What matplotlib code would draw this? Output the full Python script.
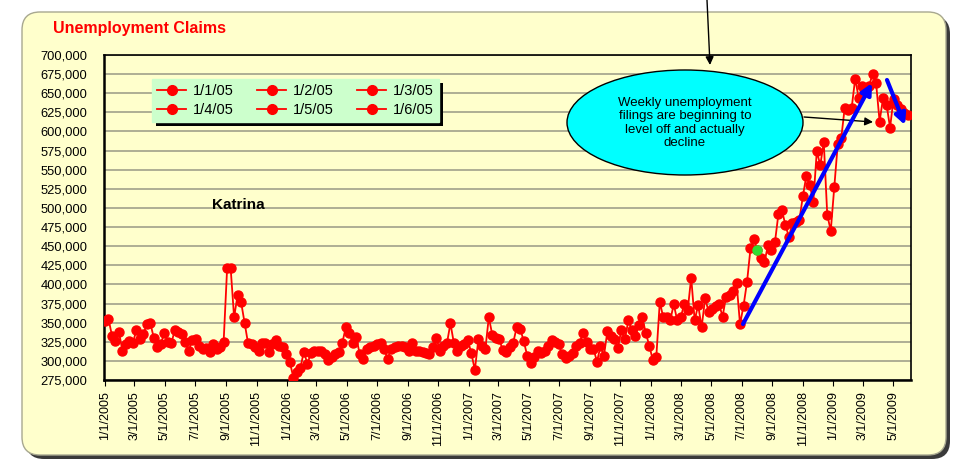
import matplotlib
matplotlib.use('Agg')
import matplotlib.pyplot as plt
from matplotlib.patches import FancyBboxPatch, Ellipse, Rectangle
from matplotlib.lines import Line2D
from matplotlib.transforms import IdentityTransform
from matplotlib.ticker import FuncFormatter
import pandas as pd

plt.rcParams['font.family'] = ['Liberation Sans', 'DejaVu Sans']

# weekly initial claims, in thousands, starting 1/1/2005
claims_k = [
    352, 355, 333, 326, 338, 313, 322, 326, 324, 340, 328, 335, 348, 349, 330, 318, 322, 337,
    325, 323, 340, 338, 335, 325, 313, 327, 328, 320, 316, 317, 311, 322, 315, 318, 325,
    421, 422, 357, 386, 377, 350, 323, 322, 318,
    313, 323, 323, 311, 322, 327, 320, 318, 309, 298, 278, 285, 291, 312, 296, 310, 313, 313,
    313, 309, 301, 305, 309, 311, 323, 344, 336, 324, 331, 309, 302, 315, 318, 320, 322, 324,
    315, 303, 315, 318, 320, 320, 318, 313, 323, 313,
    313, 311, 310, 309, 318, 330, 313, 320, 323, 349, 323, 313, 320, 322, 327, 310, 288, 328,
    320, 315, 357, 334, 330, 328, 314, 311, 318, 324, 344, 342, 326, 307, 297, 305, 313, 310,
    313, 320, 327, 325, 322, 309, 304, 307, 310, 320, 323,
    337, 325, 316, 316, 299, 319, 307, 339, 332, 329, 317, 341, 328, 353, 340, 332, 347, 357,
    336, 320, 301, 305, 377, 357, 357, 353, 374, 353, 357, 374, 366, 409, 353, 373, 344, 382,
    364, 368, 372, 374, 358, 384,
    386, 391, 402, 348, 372, 403, 447, 459, 445, 434, 429, 451, 445, 455, 492, 497, 478, 462,
    480, 482, 484, 515, 542, 530, 508, 574, 556, 586, 491, 470, 527, 583, 591, 631, 628, 631,
    669, 644, 659, 656, 660, 675, 663, 613, 644, 635, 605, 643, 635, 630, 624, 621,
]
claims = [v * 1000 for v in claims_k]
weeks = pd.date_range('2005-01-01', periods=len(claims), freq='7D')
highlight = 187

legend_labels = ['1/1/05', '1/2/05', '1/3/05', '1/4/05', '1/5/05', '1/6/05']
tick_dates = pd.date_range('2005-01-01', '2009-05-01', freq='2MS')
note = 'Weekly unemployment\nfilings are beginning to\nlevel off and actually\ndecline'

W, H = 961, 459


def fx(x):
    return x / W


def fy(y):
    return 1 - y / H


fig = plt.figure(figsize=(W / 100, H / 100), dpi=100)
fig.patch.set_facecolor('white')

# rounded yellow panel with shadow
fig.patches.append(FancyBboxPatch((26, 0), 924, 443, boxstyle='round,pad=0,rounding_size=18',
                                  transform=IdentityTransform(), facecolor='#3a3a3a',
                                  edgecolor='none', zorder=-3))
fig.patches.append(FancyBboxPatch((22, 4), 924, 443, boxstyle='round,pad=0,rounding_size=18',
                                  transform=IdentityTransform(), facecolor='#FFFFCC',
                                  edgecolor='#A8A890', lw=1, zorder=-2))

ax = fig.add_axes([fx(104), fy(380), (911 - 104) / W, (380 - 55) / H])
ax.set_facecolor('#FFFFCC')

ax.plot(weeks, claims, color='red', lw=1.3, marker='o', ms=6.5, zorder=3)
ax.plot(weeks[highlight], claims[highlight], 'o', color='#33DD33', ms=6.5, zorder=4)

ax.set_ylim(275000, 700000)
ax.set_yticks(range(275000, 700001, 25000))
ax.yaxis.set_major_formatter(FuncFormatter(lambda v, p: f'{v:,.0f}'))
ax.set_xlim(pd.Timestamp('2004-12-30'), pd.Timestamp('2009-06-06'))
ax.set_xticks(tick_dates)
ax.set_xticklabels([f'{d.month}/{d.day}/{d.year}' for d in tick_dates], rotation=90)
ax.tick_params(axis='y', length=0, pad=12, labelsize=9.3)
ax.tick_params(axis='x', length=4, pad=4, labelsize=9, direction='out')
ax.yaxis.grid(True, color='#A8A890', lw=1.3)
ax.set_axisbelow(True)
for side in ['left', 'bottom']:
    ax.spines[side].set_linewidth(1.8)
for side in ['top', 'right']:
    ax.spines[side].set_linewidth(1.2)

handles = [Line2D([], [], color='red', lw=1.3, marker='o', ms=7) for _ in legend_labels]
order = [0, 3, 1, 4, 2, 5]
leg = ax.legend([handles[i] for i in order], [legend_labels[i] for i in order], ncol=3,
                loc='upper left', bbox_to_anchor=(fx(152), fy(79)), bbox_transform=fig.transFigure,
                fontsize=10.5, fancybox=False, facecolor='#CCFFCC', edgecolor='#CCFFCC',
                framealpha=1, borderaxespad=0, handlelength=2.0, handletextpad=0.45,
                columnspacing=1.6, borderpad=0.35, labelspacing=0.35)

fig.text(fx(53), fy(29), 'Unemployment Claims', color='red', fontweight='bold', fontsize=11.5,
         va='center')
ax.text(fx(212), fy(205), 'Katrina', transform=fig.transFigure, fontweight='bold', fontsize=11,
        va='center')

ax.add_patch(Ellipse((fx(685), fy(122.5)), 236 / W, 105 / H, transform=fig.transFigure,
                     facecolor='cyan', edgecolor='black', lw=1, zorder=6, clip_on=False))
ax.text(fx(685), fy(123), note, transform=fig.transFigure, ha='center', va='center',
        fontsize=9.5, linespacing=1.12, zorder=7)

black = dict(arrowstyle='-|>', color='black', lw=1, mutation_scale=12, shrinkA=0, shrinkB=0)
blue = dict(arrowstyle='-|>', color='#0000FF', lw=3, mutation_scale=16, shrinkA=0, shrinkB=0)
arrows = [((707, 0), (710, 65), black), ((804, 117), (873, 122), black),
          ((743, 324), (872, 83), blue), ((887, 80), (905, 125), blue)]
for start, end, props in arrows:
    ax.annotate('', xy=(fx(end[0]), fy(end[1])), xycoords='figure fraction',
                xytext=(fx(start[0]), fy(start[1])), textcoords='figure fraction',
                arrowprops=props, annotation_clip=False, zorder=7)

fig.canvas.draw()
bb = leg.get_window_extent()
ax.add_patch(Rectangle((bb.x0 + 4, bb.y0 - 4), bb.width, bb.height, transform=IdentityTransform(),
                       facecolor='black', edgecolor='none', zorder=4.5, clip_on=False))

fig.savefig('out.png', dpi=100)
